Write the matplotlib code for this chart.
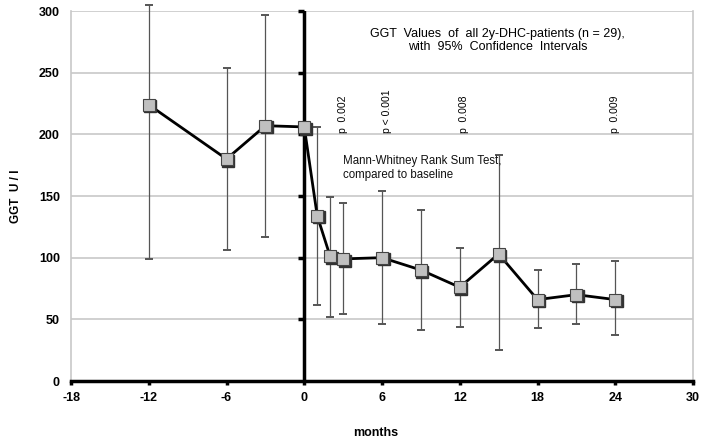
import matplotlib
matplotlib.use("Agg")
import matplotlib.pyplot as plt
import matplotlib.transforms as mtransforms
import numpy as np

months = [-12, -6, -3, 0, 1, 2, 3, 6, 9, 12, 15, 18, 21, 24]
ggt_mean = [224, 180, 207, 206, 134, 101, 99, 100, 90, 76, 103, 66, 70, 66]
ci_upper = [305, 254, 297, 206, 206, 149, 144, 154, 139, 108, 183, 90, 95, 97]
ci_lower = [99, 106, 117, 206, 62, 52, 54, 46, 41, 44, 25, 43, 46, 37]

p_positions = [3.0, 6.4, 12.3, 24.0]
p_labels = ["p  0.002", "p < 0.001", "p  0.008", "p  0.009"]

x_ticks = [-18, -12, -6, 0, 6, 12, 18, 24, 30]
y_ticks = [0, 50, 100, 150, 200, 250, 300]

plt.rcParams['font.family'] = ['Liberation Sans', 'DejaVu Sans']

fig = plt.figure(figsize=(7.09, 4.40), dpi=100)
ax = fig.add_axes([71/709, 1 - 381/440, (693-71)/709, (381-11)/440])
ax.set_xlim(-18, 30)
ax.set_ylim(0, 300)

# grid
for yv in y_ticks[1:]:
    ax.axhline(yv, color='#c8c8c8', lw=1.2, zorder=0)
ax.spines['top'].set_visible(False)
ax.spines['left'].set_color('#c8c8c8')
ax.spines['left'].set_linewidth(1.2)
ax.spines['right'].set_color('#c8c8c8')
ax.spines['right'].set_linewidth(1.2)
ax.spines['bottom'].set_color('black')
ax.spines['bottom'].set_linewidth(2.5)

ax.set_xticks(x_ticks)
ax.set_xticklabels([str(v) for v in x_ticks], fontsize=9, fontweight='bold')
ax.set_yticks(y_ticks)
ax.set_yticklabels([str(v) for v in y_ticks], fontsize=9, fontweight='bold')
ax.tick_params(axis='x', direction='out', length=3, width=2.5, color='black', pad=5)
ax.tick_params(axis='y', length=0, pad=8)

# vertical thick line at x=0 with ticks
ax.axvline(0, color='black', lw=2.5, zorder=3)
ax.plot([0]*len(y_ticks[1:]), y_ticks[1:], marker=0, linestyle='none',
        markersize=4, markeredgewidth=2.5, color='black', zorder=3,
        clip_on=False)

# error bars
mean = np.array(ggt_mean)
yerr = np.array([mean - np.array(ci_lower), np.array(ci_upper) - mean])
ax.errorbar(months, ggt_mean, yerr=yerr, fmt='none', ecolor='#555555',
            elinewidth=0.9, capsize=3, capthick=1.4, zorder=2, clip_on=False)

# line
ax.plot(months, ggt_mean, color='black', lw=2.0, zorder=4)
# marker shadow
shadow = mtransforms.offset_copy(ax.transData, fig=fig, x=1.6, y=-1.6, units='dots')
ax.plot(months, ggt_mean, linestyle='none', marker='s', markersize=8.5,
        color='#333333', transform=shadow, zorder=5)
ax.plot(months, ggt_mean, linestyle='none', marker='s', markersize=8.5,
        markerfacecolor='#c0c0c0', markeredgecolor='#444444',
        markeredgewidth=0.8, zorder=6)

# labels
ax.set_ylabel("GGT  U / l", fontsize=8.5, fontweight='bold', labelpad=12)
ax.text(5.5, -0.125, "months", transform=ax.get_xaxis_transform(),
        fontsize=9, fontweight='bold', ha='center', va='top')

ax.text(14.9, 276, "GGT  Values  of  all 2y-DHC-patients (n = 29),\nwith  95%  Confidence  Intervals",
        fontsize=9, ha='center', va='center', linespacing=1.2)
ax.text(3.0, 173, "Mann-Whitney Rank Sum Test,\ncompared to baseline",
        fontsize=8.3, ha='left', va='center', linespacing=1.2, color='#111111')

for xp, lab in zip(p_positions, p_labels):
    ax.text(xp, 201, lab, rotation=90, fontsize=7.5, ha='center', va='bottom')

fig.savefig("out.png", dpi=100)
